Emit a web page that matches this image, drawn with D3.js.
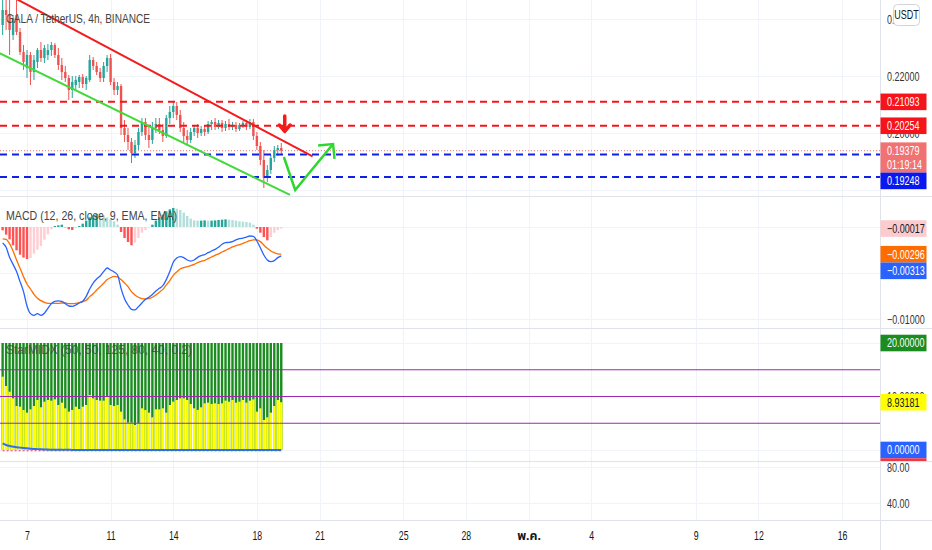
<!DOCTYPE html>
<html lang="th">
<head>
<meta charset="UTF-8">
<title>GALA / TetherUS, 4h, BINANCE</title>
<style>
  html, body { margin: 0; padding: 0; background: #fff; }
  svg { display: block; font-family: "Liberation Sans", "Noto Sans Thai", "Noto Sans", "DejaVu Sans", sans-serif; }
</style>
</head>
<body>
<svg id="chart" width="932" height="550"></svg>
<script src="https://cdnjs.cloudflare.com/ajax/libs/d3/7.9.0/d3.min.js"></script>
<script>
// ---- data (4h candles, first one opens 5 Apr 2022 20:00 UTC) ----
const firstCandle = Date.UTC(2022, 3, 5, 20);
const candleStep = 4 * 3600 * 1000;

const opens = [0.23789,0.24316,0.24140,0.23439,0.24140,0.23544,0.22842,0.22281,0.22737,0.22140,
  0.22491,0.22912,0.22632,0.22737,0.22912,0.23088,0.22737,0.22386,0.22140,0.21930,
  0.21509,0.21684,0.21789,0.21965,0.21719,0.21860,0.22561,0.22351,0.22140,0.21930,
  0.22351,0.22632,0.21789,0.21509,0.21649,0.20175,0.19930,0.19684,0.19298,0.19579,
  0.20035,0.20386,0.19930,0.19754,0.20175,0.20316,0.20105,0.19895,0.20526,0.20737,
  0.20947,0.20632,0.20175,0.19895,0.19754,0.20035,0.20175,0.20000,0.20140,0.20035,
  0.20316,0.20386,0.20211,0.20351,0.20175,0.20316,0.20211,0.20281,0.20140,0.20281,
  0.20351,0.20211,0.20386,0.19895,0.19544,0.19053,0.18421,0.18702,0.19123,0.19404,
  0.19474];
const highs = [0.24842,0.24667,0.24667,0.24140,0.24667,0.23684,0.23088,0.22912,0.22842,0.22737,
  0.22982,0.23193,0.23088,0.23123,0.23193,0.23158,0.22982,0.22632,0.22351,0.22035,
  0.22000,0.22000,0.22035,0.22070,0.22000,0.22737,0.22667,0.22491,0.22281,0.22491,
  0.22737,0.22772,0.21930,0.21789,0.21719,0.20456,0.20175,0.19825,0.19754,0.20175,
  0.20526,0.20526,0.20281,0.20386,0.20526,0.20526,0.20316,0.20632,0.20947,0.21088,
  0.21088,0.20807,0.20386,0.20105,0.20175,0.20281,0.20316,0.20246,0.20281,0.20421,
  0.20456,0.20526,0.20456,0.20456,0.20421,0.20491,0.20386,0.20386,0.20351,0.20421,
  0.20456,0.20491,0.20491,0.20035,0.19684,0.19404,0.18877,0.19228,0.19544,0.19579,
  0.19649];
const lows = [0.23439,0.23614,0.22737,0.23263,0.23439,0.22737,0.22211,0.21930,0.21684,0.21860,
  0.22281,0.22491,0.22456,0.22561,0.22702,0.22632,0.22211,0.21860,0.21789,0.21158,
  0.21228,0.21509,0.21579,0.21579,0.21509,0.21789,0.22211,0.22035,0.21789,0.21789,
  0.22140,0.21684,0.21333,0.21333,0.19930,0.19684,0.19404,0.18947,0.19123,0.19404,
  0.19895,0.19754,0.19474,0.19614,0.20000,0.19965,0.19684,0.19825,0.20316,0.20526,
  0.20456,0.20035,0.19684,0.19544,0.19649,0.19895,0.19825,0.19895,0.19895,0.19965,
  0.20105,0.20105,0.20140,0.20035,0.20070,0.20105,0.20105,0.20035,0.20070,0.20175,
  0.20105,0.20140,0.19754,0.19404,0.18877,0.18070,0.18281,0.18561,0.18982,0.19193,
  0.19263];
const closes = [0.24316,0.24140,0.23614,0.24035,0.23544,0.22842,0.22491,0.22737,0.22140,0.22561,
  0.22912,0.22632,0.22982,0.22912,0.23088,0.22737,0.22386,0.22140,0.21930,0.21509,
  0.21789,0.21860,0.21965,0.21719,0.21930,0.22561,0.22351,0.22140,0.21930,0.22351,
  0.22632,0.21789,0.21509,0.21649,0.20175,0.19930,0.19684,0.19298,0.19579,0.20035,
  0.20386,0.19930,0.19754,0.20175,0.20316,0.20105,0.19895,0.20526,0.20737,0.20947,
  0.20632,0.20175,0.19895,0.19754,0.20035,0.20175,0.20000,0.20140,0.20035,0.20316,
  0.20386,0.20211,0.20351,0.20175,0.20316,0.20211,0.20281,0.20140,0.20281,0.20351,
  0.20211,0.20386,0.19895,0.19544,0.19053,0.18421,0.18702,0.19123,0.19404,0.19474,
  0.19379];

// MACD (12, 26, close, 9) in units of 1e-5 USDT
const macdHist = [-36,-83,-134,-199,-254,-301,-333,-348,-337,-290,
  -246,-207,-138,-80,-25,11,18,25,-4,-25,
  -33,-11,11,36,69,105,127,141,138,127,
  105,91,62,25,-54,-120,-163,-199,-170,-120,
  -62,-33,-4,25,69,105,134,170,192,207,
  199,185,156,120,91,72,69,69,72,69,
  69,72,76,80,83,80,76,69,62,58,
  54,47,25,-18,-62,-109,-145,-109,-62,-33,
  -17];
const macdLine = [-174,-221,-330,-406,-485,-594,-703,-859,-942,-960,
  -942,-960,-938,-884,-833,-808,-804,-808,-833,-859,
  -862,-848,-826,-808,-754,-674,-609,-565,-533,-485,
  -446,-467,-489,-522,-667,-779,-848,-895,-902,-866,
  -826,-786,-764,-735,-696,-667,-638,-572,-485,-384,
  -337,-322,-333,-359,-370,-359,-330,-312,-301,-279,
  -261,-243,-221,-188,-170,-167,-159,-141,-127,-120,
  -109,-98,-101,-152,-225,-304,-359,-377,-366,-333,
  -313];
const signalLine = [-130,-134,-181,-261,-359,-449,-540,-620,-674,-732,
  -775,-801,-819,-830,-830,-830,-830,-826,-826,-833,
  -833,-830,-822,-812,-797,-757,-725,-685,-649,-612,
  -572,-551,-536,-543,-572,-609,-649,-703,-739,-764,
  -779,-783,-779,-764,-739,-710,-678,-630,-583,-525,
  -489,-456,-442,-431,-420,-406,-388,-373,-362,-344,
  -326,-308,-293,-272,-254,-235,-217,-203,-192,-178,
  -163,-149,-141,-141,-159,-196,-232,-261,-279,-293,
  -296];

// third pane indicator
const oscTop = 20;
const oscYellow = [13.71,11.96,10.90,9.66,8.22,8.10,7.48,6.98,7.60,8.22,
  9.35,7.98,9.03,9.35,9.22,9.47,8.41,8.85,7.79,7.17,
  7.48,8.10,7.66,8.10,8.41,10.28,9.66,9.35,9.22,9.22,
  10.09,8.41,8.22,8.41,7.17,5.73,5.11,5.11,4.67,4.98,
  7.79,7.48,6.98,6.11,7.60,7.60,7.79,6.98,8.41,9.03,
  9.35,9.66,9.66,9.35,8.60,7.79,7.48,7.98,8.72,8.85,
  8.60,8.72,8.60,8.72,9.22,9.03,9.35,8.85,9.03,9.35,
  8.85,9.22,9.47,7.17,7.79,5.61,6.11,6.98,8.22,9.35,
  8.93181];
const oscBlue = [1.25,0.93,0.75,0.62,0.50,0.44,0.37,0.31,0.25,0.19,
  0.16,0.12,0.09,0.07,0.06,0.05,0.04,0.04,0.03,0.03,
  0.02,0.02,0.02,0.01,0.01,0.01,0.01,0.01,0.01,0.01,
  0,0,0,0,0,0,0,0,0,0,
  0,0,0,0,0,0,0,0,0,0,
  0,0,0,0,0,0,0,0,0,0,
  0,0,0,0,0,0,0,0,0,0,
  0,0,0,0,0,0,0,0,0,0,
  0];
const oscRed = 0;
const oscLevels = [15, 10, 5];

// horizontal levels and drawings
const redLevels = [0.21093, 0.20254];
const blueLevels = [0.19248, 0.18456];
const lastPrice = 0.19379;
const countdown = "01:19:14";
const redTrend = [[Date.UTC(2022, 3, 6, 12), 0.24700], [Date.UTC(2022, 3, 20, 16), 0.19176]];
const greenTrend = [[Date.UTC(2022, 3, 5, 12), 0.22870], [Date.UTC(2022, 3, 19, 14), 0.17825]];
const greenArrow = [[Date.UTC(2022, 3, 19, 7), 0.19158], [Date.UTC(2022, 3, 19, 20), 0.18000], [Date.UTC(2022, 3, 21, 15, 30), 0.19614]];
const downMark = [Date.UTC(2022, 3, 19, 8), 0.20316];

// axis ticks (grid) and the tick labels that are not hidden behind value labels
const timeTicks = [[3, 7], [3, 11], [3, 14], [3, 18], [3, 21], [3, 25], [3, 28], [4, 1], [4, 4], [4, 9], [4, 12], [4, 16]];
const monthNames = ["ม.ค.", "ก.พ.", "มี.ค.", "เม.ย.", "พ.ค.", "มิ.ย."];
const priceTicks = [0.24, 0.22, 0.20, 0.18];
const priceTickLabels = [0.24, 0.22, 0.20];
const macdTicks = [0, -500, -1000];
const macdTickLabels = [-1000];
const oscTicks = [20, 10, 0];
const oscTickLabels = [10];
const rsiTicks = [80, 40];

// ---- layout ----
const svg = d3.select("#chart");
const W = 932, H = 550, plotW = 880;
const panes = { price: [0, 196], macd: [197, 328], osc: [329, 461], rsi: [462, 520] };
const up = "#26a69a", down = "#ef5350";
const squeeze = 0.72;

const x = d3.scaleUtc().domain([Date.UTC(2022, 3, 7), Date.UTC(2022, 4, 16)]).range([27, 842]);
const yPrice = d3.scaleLinear().domain([0.17789, 0.24667]).range([196, 0]);
const yMacd = d3.scaleLinear().domain([-1098, 326]).range([328, 197]);
const yOsc = d3.scaleLinear().domain([-2.06, 22.62]).range([461, 329]);
const yRsi = d3.scaleLinear().domain([21.7, 85.1]).range([520, 462]);

const tOf = i => firstCandle + i * candleStep;
const idx = d3.range(opens.length);

const defs = svg.append("defs");
Object.entries(panes).forEach(([k, [y0, y1]]) => {
  defs.append("clipPath").attr("id", "clip-" + k)
    .append("rect").attr("x", 0).attr("y", y0).attr("width", plotW).attr("height", y1 - y0);
  defs.append("clipPath").attr("id", "aclip-" + k)
    .append("rect").attr("x", plotW).attr("y", y0).attr("width", W - plotW).attr("height", y1 - y0);
});

// grid
const tickDates = timeTicks.map(([m, d]) => new Date(Date.UTC(2022, m, d)));
const grid = svg.append("g").attr("stroke", "#f0f3fa").attr("stroke-width", 1);
Object.values(panes).forEach(([y0, y1]) => {
  tickDates.forEach(t => {
    const gx = Math.round(x(t)) + 0.5;
    grid.append("line").attr("x1", gx).attr("x2", gx).attr("y1", y0).attr("y2", y1);
  });
});
[[priceTicks, yPrice], [macdTicks, yMacd], [oscTicks, yOsc], [rsiTicks, yRsi]].forEach(([ticks, s]) => {
  ticks.forEach(v => {
    const gy = Math.round(s(v)) + 0.5;
    grid.append("line").attr("x1", 0).attr("x2", plotW).attr("y1", gy).attr("y2", gy);
  });
});

// ---- price pane ----
const pg = svg.append("g").attr("clip-path", "url(#clip-price)");
pg.selectAll(".wick").data(idx).join("line").attr("class", "wick")
  .attr("x1", i => x(tOf(i))).attr("x2", i => x(tOf(i)))
  .attr("y1", i => yPrice(highs[i])).attr("y2", i => yPrice(lows[i]))
  .attr("stroke", i => closes[i] >= opens[i] ? up : down).attr("stroke-width", 1);
pg.selectAll(".body").data(idx).join("rect").attr("class", "body")
  .attr("x", i => x(tOf(i)) - 1.2).attr("width", 2.4)
  .attr("y", i => yPrice(Math.max(opens[i], closes[i])))
  .attr("height", i => Math.max(1, Math.abs(yPrice(opens[i]) - yPrice(closes[i]))))
  .attr("fill", i => closes[i] >= opens[i] ? up : down);

// last price dotted line
pg.append("line").attr("x1", 0).attr("x2", plotW)
  .attr("y1", yPrice(lastPrice)).attr("y2", yPrice(lastPrice))
  .attr("stroke", "#f07070").attr("stroke-width", 1).attr("stroke-dasharray", "1,2");

// dashed horizontal levels
redLevels.forEach(v => pg.append("line").attr("x1", 0).attr("x2", plotW)
  .attr("y1", yPrice(v)).attr("y2", yPrice(v))
  .attr("stroke", "#f5141b").attr("stroke-width", 2).attr("stroke-dasharray", "7,5"));
blueLevels.forEach(v => pg.append("line").attr("x1", 0).attr("x2", plotW)
  .attr("y1", yPrice(v)).attr("y2", yPrice(v))
  .attr("stroke", "#1020e8").attr("stroke-width", 2).attr("stroke-dasharray", "7,5"));

// trend lines
const pline = d3.line().x(d => x(d[0])).y(d => yPrice(d[1]));
pg.append("path").attr("d", pline(redTrend)).attr("fill", "none")
  .attr("stroke", "#f21c1c").attr("stroke-width", 2);
pg.append("path").attr("d", pline(greenTrend)).attr("fill", "none")
  .attr("stroke", "#44d93a").attr("stroke-width", 2);

// green projection arrow
pg.append("path").attr("d", pline(greenArrow)).attr("fill", "none")
  .attr("stroke", "#2fd62f").attr("stroke-width", 2.5).attr("stroke-linejoin", "miter");
{
  const a = greenArrow[greenArrow.length - 2], b = greenArrow[greenArrow.length - 1];
  const bx = x(b[0]), by = yPrice(b[1]);
  const ang = Math.atan2(yPrice(a[1]) - by, x(a[0]) - bx);
  const len = 15, spread = Math.PI / 4;
  const p1 = [bx + len * Math.cos(ang - spread), by + len * Math.sin(ang - spread)];
  const p2 = [bx + len * Math.cos(ang + spread), by + len * Math.sin(ang + spread)];
  pg.append("path").attr("d", `M${p1}L${bx},${by}L${p2}`).attr("fill", "none")
    .attr("stroke", "#2fd62f").attr("stroke-width", 2.5);
}

// red down arrow mark
pg.append("path")
  .attr("transform", `translate(${x(downMark[0])},${yPrice(downMark[1])})`)
  .attr("d", "M0,-8 L0,7 M-5.5,1 L0,7.5 L5.5,1")
  .attr("fill", "none").attr("stroke", "#f21c1c").attr("stroke-width", 3.5)
  .attr("stroke-linecap", "round").attr("stroke-linejoin", "round");

// title
svg.append("text").attr("x", 6).attr("y", 23).attr("font-size", 13).attr("fill", "#444")
  .attr("textLength", 144).attr("lengthAdjust", "spacingAndGlyphs")
  .text("GALA / TetherUS, 4h, BINANCE");

// ---- MACD pane ----
const mg = svg.append("g").attr("clip-path", "url(#clip-macd)");
const histColor = i => {
  const v = macdHist[i], p = i > 0 ? macdHist[i - 1] : v;
  if (v >= 0) return v >= p ? "#26a69a" : "#b2dfdb";
  return v <= p ? "#ff5252" : "#ffcdd2";
};
mg.selectAll(".hist").data(idx).join("rect").attr("class", "hist")
  .attr("x", i => x(tOf(i)) - 1.2).attr("width", 2.4)
  .attr("y", i => Math.min(yMacd(0), yMacd(macdHist[i])))
  .attr("height", i => Math.abs(yMacd(macdHist[i]) - yMacd(0)))
  .attr("fill", histColor);
const mline = arr => d3.line().x(i => x(tOf(i))).y(i => yMacd(arr[i])).curve(d3.curveMonotoneX)(idx);
mg.append("path").attr("d", mline(signalLine)).attr("fill", "none").attr("stroke", "#ff6d00").attr("stroke-width", 1.3);
mg.append("path").attr("d", mline(macdLine)).attr("fill", "none").attr("stroke", "#2962ff").attr("stroke-width", 1.3);
svg.append("text").attr("x", 6).attr("y", 220).attr("font-size", 13).attr("fill", "#444")
  .attr("textLength", 171).attr("lengthAdjust", "spacingAndGlyphs")
  .text("MACD (12, 26, close, 9, EMA, EMA)");

// ---- oscillator pane ----
const og = svg.append("g").attr("clip-path", "url(#clip-osc)");
og.selectAll(".ogreen").data(idx).join("rect").attr("class", "ogreen")
  .attr("x", i => x(tOf(i)) - 1.2).attr("width", 2.4)
  .attr("y", yOsc(oscTop)).attr("height", yOsc(0) - yOsc(oscTop))
  .attr("fill", "#1b8c1f");
og.selectAll(".oyellow").data(idx).join("rect").attr("class", "oyellow")
  .attr("x", i => x(tOf(i)) - 1.2).attr("width", 2.4)
  .attr("y", i => yOsc(oscYellow[i])).attr("height", i => yOsc(0) - yOsc(oscYellow[i]))
  .attr("fill", "#ffff00");
oscLevels.forEach(v => og.append("line").attr("x1", 0).attr("x2", plotW)
  .attr("y1", yOsc(v)).attr("y2", yOsc(v)).attr("stroke", "#9c27b0").attr("stroke-width", 1.2));
og.append("line").attr("x1", x(tOf(0))).attr("x2", x(tOf(opens.length - 1)))
  .attr("y1", yOsc(oscRed) + 0.8).attr("y2", yOsc(oscRed) + 0.8)
  .attr("stroke", "#f23645").attr("stroke-width", 1).attr("stroke-dasharray", "2,2");
og.append("path").attr("d", d3.line().x(i => x(tOf(i))).y(i => yOsc(oscBlue[i])).curve(d3.curveMonotoneX)(idx))
  .attr("fill", "none").attr("stroke", "#2f6ff0").attr("stroke-width", 2);
svg.append("text").attr("x", 6).attr("y", 354).attr("font-size", 13).attr("fill", "#444").attr("opacity", 0.8)
  .attr("textLength", 186).attr("lengthAdjust", "spacingAndGlyphs")
  .text("StarMIDX (50, 50, 125, 80, 40, 0.2)");

// ---- separators ----
[196.5, 328.5, 461.5, 520.5].forEach(y => svg.append("line")
  .attr("x1", 0).attr("x2", W).attr("y1", y).attr("y2", y).attr("stroke", "#e0e3eb"));
svg.append("line").attr("x1", plotW + 0.5).attr("x2", plotW + 0.5).attr("y1", 0).attr("y2", H).attr("stroke", "#e0e3eb");

// ---- right axes ----
function rightAxis(scale, ticks, fmt) {
  const g = svg.append("g").attr("transform", "translate(887,0)")
    .call(d3.axisRight(scale).tickValues(ticks).tickFormat(fmt).tickSize(0).tickPadding(0));
  g.attr("font-family", null).attr("font-size", 12.5);
  g.select(".domain").remove();
  g.selectAll("text").attr("fill", "#333").attr("x", 0).attr("dy", "0.35em")
    .attr("transform", `scale(${squeeze},1)`);
  return g;
}
const f5 = d3.format(".5f");
rightAxis(yPrice, priceTickLabels, f5);
rightAxis(yMacd, macdTickLabels, v => f5(v / 1e5));
rightAxis(yOsc, oscTickLabels, f5);
rightAxis(yRsi, rsiTicks, d3.format(".2f"));

// value labels on the scale, pushed down when they overlap
function valueLabels(items, pane) {
  const g = svg.append("g").attr("clip-path", `url(#aclip-${pane})`);
  let bottom = -Infinity;
  items.slice().sort((a, b) => a.y - b.y).forEach(it => {
    const h = 16.6 + Math.max(0, it.lines.length - 1) * 13.6;
    const top = Math.max(it.y - 8.3, bottom);
    bottom = top + h;
    g.append("rect").attr("x", plotW + 0.5).attr("y", top).attr("width", 46).attr("height", h).attr("fill", it.fill);
    it.lines.forEach((s, j) => g.append("text")
      .attr("transform", `translate(887,${top + 8.3 + j * 13.6}) scale(${squeeze},1)`)
      .attr("dy", "0.35em").attr("font-size", 12.5).attr("fill", it.color).text(s));
  });
}
valueLabels([
  { y: yPrice(redLevels[0]), lines: [f5(redLevels[0])], fill: "#f5141b", color: "#fff" },
  { y: yPrice(redLevels[1]), lines: [f5(redLevels[1])], fill: "#f5141b", color: "#fff" },
  { y: yPrice(lastPrice), lines: [f5(lastPrice), countdown], fill: "#f07272", color: "#fff" },
  { y: yPrice(blueLevels[0]), lines: [f5(blueLevels[0])], fill: "#0a18f0", color: "#fff" }
], "price");
const last = opens.length - 1;
valueLabels([
  { y: yMacd(macdHist[last]), lines: [f5(macdHist[last] / 1e5)], fill: "#fccbcd", color: "#131722" },
  { y: yMacd(signalLine[last]), lines: [f5(signalLine[last] / 1e5)], fill: "#ff6d00", color: "#fff" },
  { y: yMacd(macdLine[last]), lines: [f5(macdLine[last] / 1e5)], fill: "#2962ff", color: "#fff" }
], "macd");
// the red series label sits almost fully below the pane; only its top edge shows
valueLabels([
  { y: yOsc(oscTop), lines: [f5(oscTop)], fill: "#1b8c1f", color: "#fff" },
  { y: yOsc(oscYellow[last]), lines: [f5(oscYellow[last])], fill: "#ffff00", color: "#131722" },
  { y: yOsc(oscBlue[last]), lines: [f5(oscBlue[last])], fill: "#2962ff", color: "#fff" },
  { y: yOsc(oscRed), lines: [], fill: "#f23645", color: "#fff" }
], "osc");

// currency badge
svg.append("rect").attr("x", 893.5).attr("y", 4.5).attr("width", 26).attr("height", 21).attr("rx", 4)
  .attr("fill", "#fff").attr("stroke", "#d1d4dc");
svg.append("text").attr("transform", `translate(906.5,15) scale(${squeeze},1)`)
  .attr("text-anchor", "middle").attr("dy", "0.35em").attr("font-size", 12.5).attr("fill", "#131722").text("USDT");

// ---- time axis ----
const isMonth = d => d.getUTCDate() === 1;
const tg = svg.append("g").attr("transform", "translate(0,521)")
  .call(d3.axisBottom(x).tickValues(tickDates).tickSize(0).tickPadding(10)
    .tickFormat(d => isMonth(d) ? monthNames[d.getUTCMonth()] : d.getUTCDate()));
tg.attr("font-family", null).attr("font-size", 12.5);
tg.select(".domain").remove();
tg.selectAll("text").attr("fill", "#131722")
  .attr("transform", d => isMonth(d) ? "scale(0.95,1)" : "scale(0.7,1)")
  .attr("font-size", d => isMonth(d) ? 13 : null)
  .attr("font-weight", d => isMonth(d) ? 700 : null);
</script>
</body>
</html>
